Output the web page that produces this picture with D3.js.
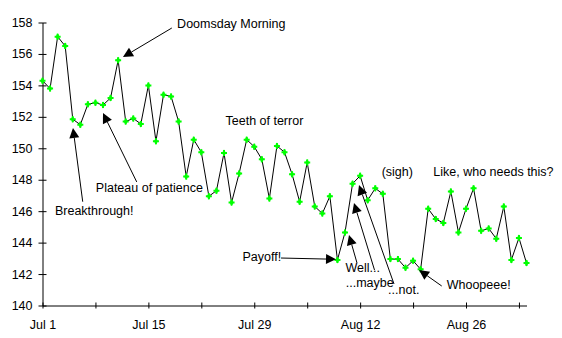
<!DOCTYPE html>
<html>
<head>
<meta charset="utf-8">
<script src="https://cdn.jsdelivr.net/npm/d3@7"></script>
<style>
  html, body { margin: 0; padding: 0; background: #fff; }
  svg { display: block; font-family: "Liberation Sans", Arial, sans-serif; }
</style>
</head>
<body>
<svg id="chart" width="562" height="338"></svg>
<script>
// ---- data ----
const startDate = new Date(2002, 6, 1); // Jul 1
const weights = [
  154.3, 153.8, 157.1, 156.5, 151.85, 151.5, 152.8, 152.9, 152.75, 153.2,
  155.6, 151.7, 151.9, 151.55, 154.0, 150.45, 153.4, 153.3, 151.7, 148.2,
  150.55, 149.75, 146.95, 147.3, 149.7, 146.55, 148.4, 150.55, 150.1, 149.3,
  146.8, 150.15, 149.75, 148.35, 146.6, 149.1, 146.3, 145.85, 146.95, 142.9,
  144.65, 147.75, 148.25, 146.7, 147.45, 147.1, 142.95, 142.95, 142.4, 142.85,
  142.3, 146.15, 145.5, 145.25, 147.25, 144.65, 146.15, 147.45, 144.75, 144.9,
  144.25, 146.3, 142.9, 144.3, 142.7
];
const yTicks = [140, 142, 144, 146, 148, 150, 152, 154, 156, 158];
const xTickDays = [0, 7, 14, 21, 28, 35, 42, 49, 56, 63];
const xTickLabels = ["Jul 1", "", "Jul 15", "", "Jul 29", "", "Aug 12", "", "Aug 26", ""];

// annotations: text position (day offset, weight) and optional arrow tail/tip
const noteTexts = ["Doomsday Morning", "Teeth of terror", "Plateau of patience", "Breakthrough!",
  "Payoff!", "Well...", "...maybe", "...not.", "Whoopeee!", "(sigh)", "Like, who needs this?"];
const noteDay   = [17.8, 24.2, 7.05, 1.65, 26.45, 40.05, 40.1, 45.7, 53.45, 44.85, 51.68];
const noteVal   = [157.65, 151.48, 147.22, 145.76, 142.83, 142.15, 141.2, 140.75, 141.05, 148.24, 148.24];
const arrowTail = [[17.1, 157.65], null, [12.46, 147.86], [5.32, 146.6], [31.54, 143.02],
  [41.59, 142.7], [43.9, 142.26], [46.48, 141.37], [52.79, 141.24], null, null];
const arrowTip  = [[10.64, 155.8], null, [8.0, 152.24], [4.03, 151.29], [38.81, 142.94],
  [40.53, 144.48], [41.19, 146.52], [41.85, 147.66], [49.79, 142.26], null, null];

// ---- chart ----
const svg = d3.select("#chart");
const dayMs = 24 * 3600 * 1000;
const dateOf = d => new Date(startDate.getTime() + d * dayMs);
const endDate = dateOf(weights.length - 1);

const x = d3.scaleTime().domain([startDate, endDate]).range([42.5, 526.5]);
const y = d3.scaleLinear().domain([140, 158]).range([305.5, 22.5]);

const pts = weights.map((w, i) => ({ date: dateOf(i), w }));

// y axis
const yAxis = svg.append("g").attr("transform", "translate(42.5,0)")
  .call(d3.axisLeft(y).tickValues(yTicks).tickSize(4).tickSizeOuter(0).tickPadding(6)
    .tickFormat(d3.format("d")));
yAxis.selectAll(".tick line").attr("x1", 4);
yAxis.selectAll("text").attr("font-size", 12.5).attr("fill", "#000")
  .attr("font-family", "'Liberation Sans', Arial, sans-serif");
yAxis.select(".domain").attr("stroke", "#000");

// x axis
const xAxis = svg.append("g").attr("transform", "translate(0,305.5)")
  .call(d3.axisBottom(x).tickValues(xTickDays.map(dateOf)).tickSize(3).tickSizeOuter(0)
    .tickPadding(11.5).tickFormat((d, i) => xTickLabels[i]));
xAxis.selectAll(".tick line").attr("y1", -3);
xAxis.selectAll("text").attr("font-size", 12.5).attr("fill", "#000")
  .attr("font-family", "'Liberation Sans', Arial, sans-serif");
xAxis.select(".domain").attr("stroke", "#000");

// data line
svg.append("path").datum(pts)
  .attr("fill", "none").attr("stroke", "#000").attr("stroke-width", 1)
  .attr("d", d3.line().x(d => x(d.date)).y(d => y(d.w)));

// markers
const markerPath = "M-1,-3 L1,-3 L1,-1 L3,-1 L3,1 L1,1 L1,3 L-1,3 L-1,1 L-3,1 L-3,-1 L-1,-1 Z";
svg.append("g").selectAll("path").data(pts).join("path")
  .attr("d", markerPath)
  .attr("transform", d => `translate(${x(d.date)},${y(d.w)})`)
  .attr("fill", "#00ff00");
svg.append("g").selectAll("path").data(pts).join("path")
  .attr("d", d3.symbol(d3.symbolDiamond, 14)())
  .attr("transform", d => `translate(${x(d.date)},${y(d.w)})`)
  .attr("fill", "#00ff00");

// annotations
const notes = svg.append("g");
noteTexts.forEach((t, i) => {
  notes.append("text")
    .attr("x", x(dateOf(noteDay[i])))
    .attr("y", y(noteVal[i]))
    .attr("font-size", 12.5)
    .attr("fill", "#000")
    .text(t);
  if (arrowTail[i]) {
    const x0 = x(dateOf(arrowTail[i][0])), y0 = y(arrowTail[i][1]);
    const x1 = x(dateOf(arrowTip[i][0])), y1 = y(arrowTip[i][1]);
    const dx = x1 - x0, dy = y1 - y0, len = Math.hypot(dx, dy);
    const ux = dx / len, uy = dy / len;
    const L = 10, W = 5;
    const bx = x1 - ux * L, by = y1 - uy * L;
    notes.append("line")
      .attr("x1", x0).attr("y1", y0).attr("x2", bx).attr("y2", by)
      .attr("stroke", "#000").attr("stroke-width", 1);
    notes.append("path")
      .attr("d", `M${x1},${y1} L${bx - uy * W},${by + ux * W} L${bx + uy * W},${by - ux * W} Z`)
      .attr("fill", "#000");
  }
});
</script>
</body>
</html>
